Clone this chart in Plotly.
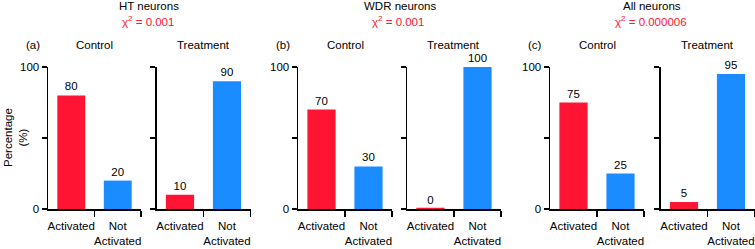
import plotly.graph_objects as go

# ---- data ----
categories = ["Activated", "Not<br>Activated"]
groups = ["Control", "Treatment"]
panel_titles = ["HT neurons", "WDR neurons", "All neurons"]
panel_letters = ["(a)", "(b)", "(c)"]
chi_values = ["0.001", "0.001", "0.000006"]
ht_control = [80, 20]
ht_treatment = [10, 90]
wdr_control = [70, 30]
wdr_treatment = [0, 100]
all_control = [75, 25]
all_treatment = [5, 95]
y_tick_vals = [0, 50, 100]
y_tick_text = ["0", "", "100"]

series = [ht_control, ht_treatment, wdr_control, wdr_treatment, all_control, all_treatment]

# ---- style ----
W, H = 755, 249
RED = "#FF1433"
BLUE = "#1A8CFF"
FONT = "Liberation Sans, Arial, Helvetica, sans-serif"
FS = 11.5
# axis pixel extents (left, right)
x_px = [(48, 141), (156.5, 250.5), (298, 392), (407, 501), (550, 644), (660.5, 754.5)]
y_px = (67, 209)
ydom = [1 - y_px[1] / H, 1 - y_px[0] / H]

fig = go.Figure()
for i, vals in enumerate(series):
    n = i + 1
    xa = "x" if n == 1 else f"x{n}"
    ya = "y" if n == 1 else f"y{n}"
    fig.add_trace(go.Bar(
        x=[0, 1], y=vals, width=0.6,
        marker=dict(color=[RED, BLUE], line=dict(color=[RED, BLUE], width=[2.5 if v == 0 else 0 for v in vals])),
        text=[str(v) for v in vals], textposition="outside",
        textfont=dict(family=FONT, size=FS, color="black"),
        cliponaxis=False, xaxis=xa, yaxis=ya, showlegend=False,
        hoverinfo="skip",
    ))
    xkey = "xaxis" if n == 1 else f"xaxis{n}"
    ykey = "yaxis" if n == 1 else f"yaxis{n}"
    fig.layout[xkey] = dict(
        domain=[x_px[i][0] / W, x_px[i][1] / W], anchor=ya, range=[-0.5, 1.5],
        tickmode="array", tickvals=[0, 1], ticktext=categories, tickangle=0,
        ticks="outside", ticklen=6, tickcolor="rgba(0,0,0,0)",
        showline=True, linecolor="black", linewidth=1.5, automargin=False,
        showgrid=False, zeroline=False, fixedrange=True,
        tickfont=dict(family=FONT, size=FS, color="black"),
        minor=dict(tickmode="array", tickvals=[0.5, 1.5], ticks="outside",
                   ticklen=6, tickwidth=1.5, tickcolor="black", showgrid=False),
    )
    fig.layout[ykey] = dict(
        domain=ydom, anchor=xa, range=[0, 100],
        tickmode="array", tickvals=y_tick_vals,
        ticktext=y_tick_text if i % 2 == 0 else ["", "", ""],
        ticks="outside", ticklen=5, tickwidth=1.5, tickcolor="black",
        showline=True, linecolor="black", linewidth=1.5, automargin=False,
        showgrid=False, zeroline=False, fixedrange=True,
        tickfont=dict(family=FONT, size=FS, color="black"),
    )

ann = []
for p in range(3):
    c_ax = "x" if p == 0 else f"x{2 * p + 1}"
    t_ax = f"x{2 * p + 2}"
    cx = (x_px[2 * p][0] + x_px[2 * p + 1][1]) / 2 / W
    ann.append(dict(text=panel_titles[p], x=cx, y=1 - 6.5 / H, xref="paper", yref="paper",
                    showarrow=False, xanchor="center", yanchor="middle",
                    font=dict(family=FONT, size=FS, color="black")))
    ann.append(dict(text=f"χ<sup>2</sup> = {chi_values[p]}", x=cx - 1.5 / W, y=1 - 20.5 / H,
                    xref="paper", yref="paper", showarrow=False, xanchor="center", yanchor="middle",
                    font=dict(family=FONT, size=FS, color=RED)))
    ann.append(dict(text=panel_letters[p], x=0, xshift=-15, y=1 - 45 / H, xref=f"{c_ax} domain", yref="paper",
                    showarrow=False, xanchor="center", yanchor="middle",
                    font=dict(family=FONT, size=FS, color="black")))
    ann.append(dict(text=groups[0], x=0.5, y=1 - 45 / H, xref=f"{c_ax} domain", yref="paper",
                    showarrow=False, xanchor="center", yanchor="middle",
                    font=dict(family=FONT, size=FS, color="black")))
    ann.append(dict(text=groups[1], x=0.5, y=1 - 45 / H, xref=f"{t_ax} domain", yref="paper",
                    showarrow=False, xanchor="center", yanchor="middle",
                    font=dict(family=FONT, size=FS, color="black")))

ann.append(dict(text="Percentage<br>(%)", x=15 / W, y=(ydom[0] + ydom[1]) / 2, xref="paper", yref="paper",
                textangle=-90, showarrow=False, xanchor="center", yanchor="middle",
                font=dict(family=FONT, size=FS, color="black")))

fig.update_layout(
    width=W, height=H, margin=dict(l=0, r=0, t=0, b=0, autoexpand=False),
    paper_bgcolor="white", plot_bgcolor="white",
    annotations=ann, bargap=0,
    font=dict(family=FONT, size=FS, color="black"),
)

fig.write_html("out.html", config={"displayModeBar": False, "staticPlot": True},
               post_script="document.body.style.margin='0';document.body.style.overflow='hidden';")
